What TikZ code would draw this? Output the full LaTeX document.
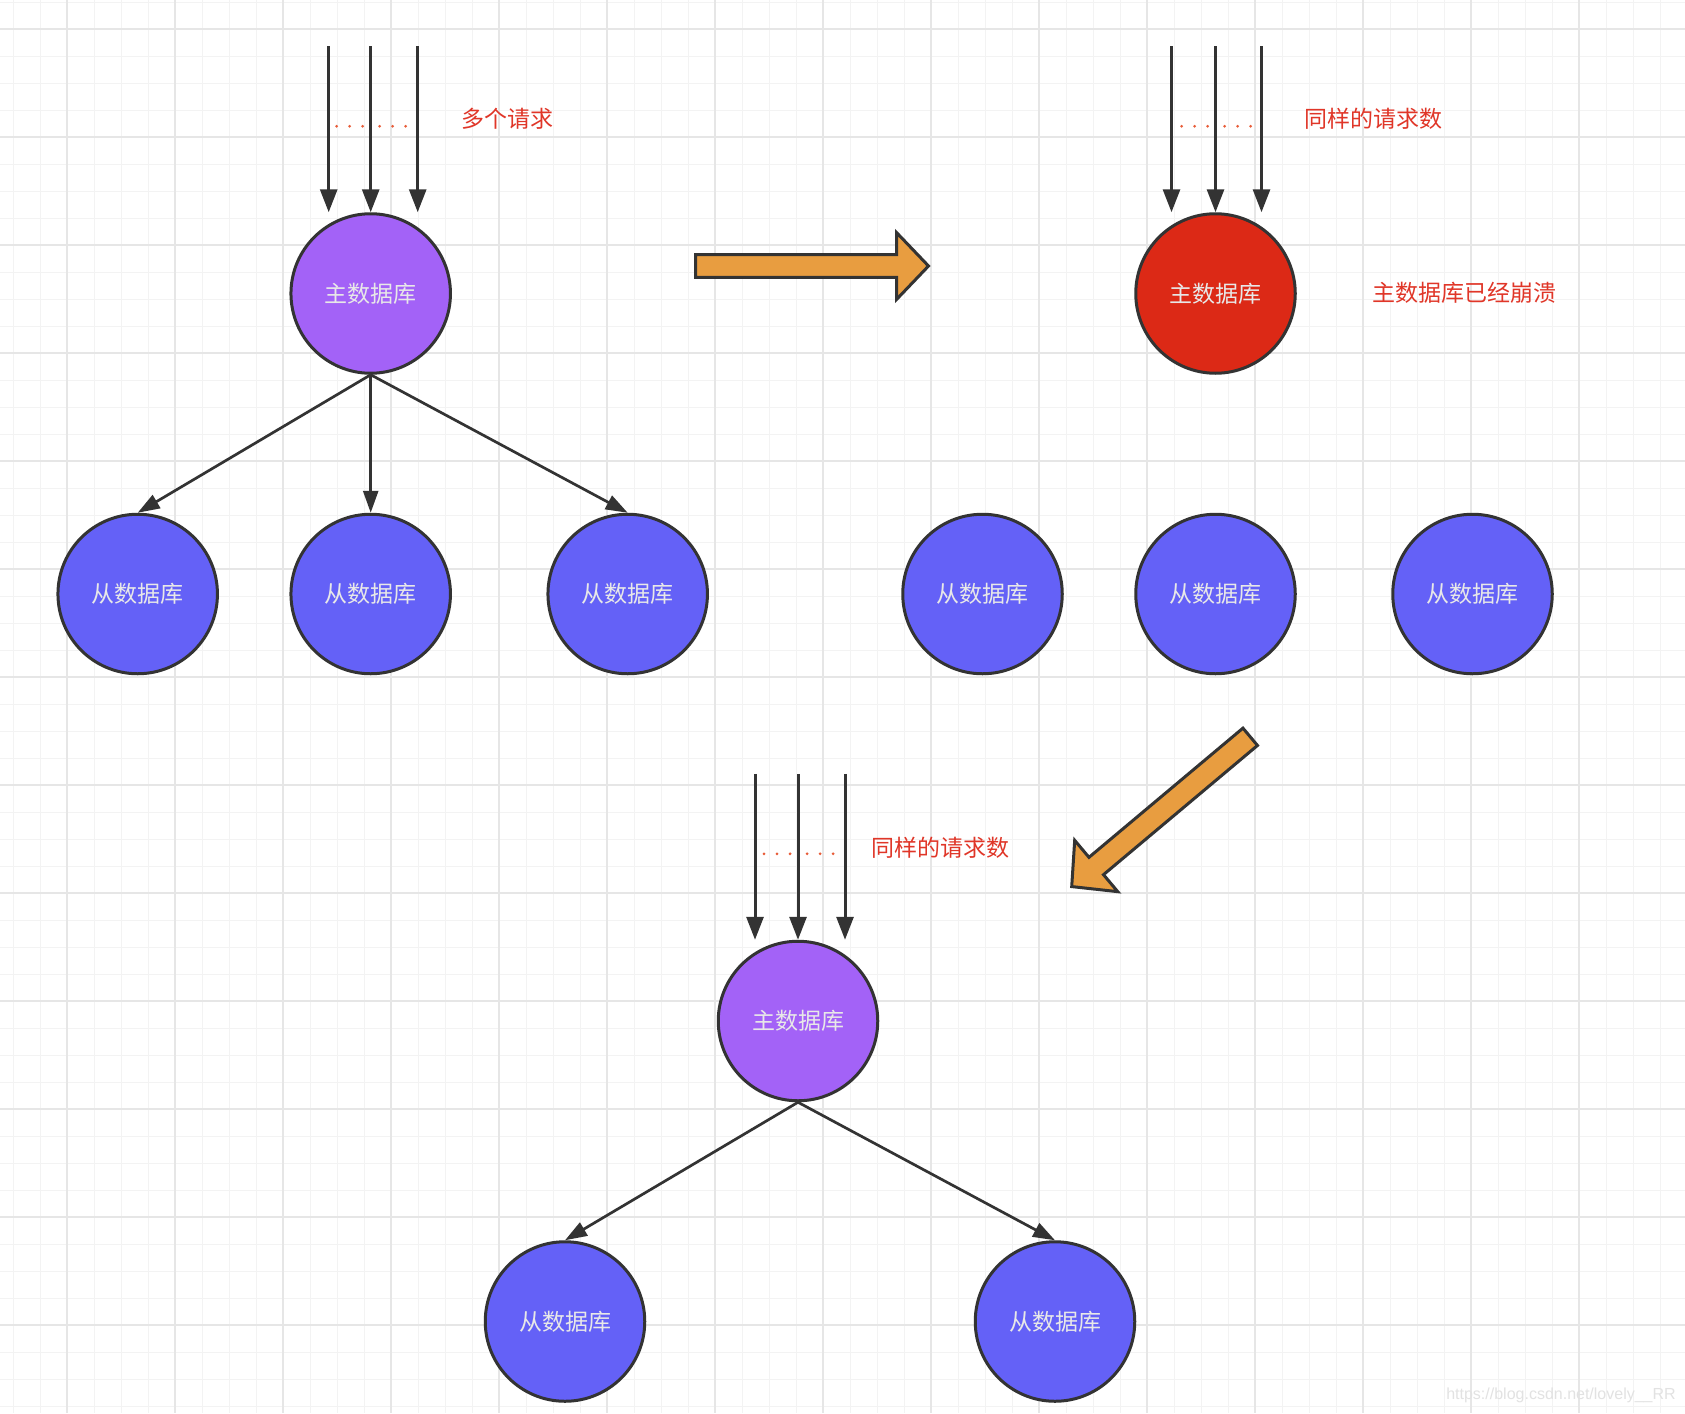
\documentclass[tikz,border=0pt]{standalone}
\usepackage{fontspec}
\setmainfont{Liberation Sans}
\newfontfamily\cjk{Noto Sans CJK SC}
\usetikzlibrary{arrows.meta, positioning, calc}

\begin{document}
\begin{tikzpicture}[
    x=1pt, y=-1pt,
    every node/.style = {font=\fontsize{23}{28}\selectfont\cjk},
    db/.style = {
        circle,
        draw={rgb,255:red,51;green,51;blue,51},
        line width=3pt,
        minimum size=159.5pt,
        inner sep=0pt,
        text={rgb,255:red,232;green,232;blue,232}
    },
    master/.style  = {db, fill={rgb,255:red,163;green,98;blue,247}},
    crashed/.style = {db, fill={rgb,255:red,220;green,41;blue,22}},
    slave/.style   = {db, fill={rgb,255:red,100;green,97;blue,247}},
    req/.style = {
        -{Triangle[length=23pt,width=17pt]},
        line width=3pt,
        color={rgb,255:red,51;green,51;blue,51}
    },
    arr/.style = {
        -{Triangle[length=22pt,width=15pt]},
        line width=2.7pt,
        color={rgb,255:red,51;green,51;blue,51}
    },
    note/.style = {text={rgb,255:red,224;green,54;blue,40}, inner sep=0pt},
    dot/.style  = {fill={rgb,255:red,232;green,92;blue,56}},
    bigarrow/.style = {
        fill={rgb,255:red,232;green,157;blue,64},
        draw={rgb,255:red,51;green,51;blue,51},
        line width=3pt,
        line join=miter
    },
    gridminor/.style = {line width=1.3pt, color={rgb,255:red,243;green,243;blue,243}},
    gridmajor/.style = {line width=1.8pt, color={rgb,255:red,230;green,230;blue,230}}
]

%% Canvas and grid paper
\useasboundingbox (0,0) rectangle (1685,1413);
\fill[white] (0,0) rectangle (1685,1413);
\foreach \k in {0,...,61}
    \draw[gridminor] (13.3+27*\k,0) -- (13.3+27*\k,1413);
\foreach \k in {0,...,52}
    \draw[gridminor] (0,2.3+27*\k) -- (1685,2.3+27*\k);
\foreach \k in {0,...,14}
    \draw[gridmajor] (67.3+108*\k,0) -- (67.3+108*\k,1413);
\foreach \k in {0,...,12}
    \draw[gridmajor] (0,29.3+108*\k) -- (1685,29.3+108*\k);

%% Masters
\node[master]                       (m1) at (370.7,293.5) {主数据库};
\node[crashed, right=682.3pt of m1] (m2)                  {主数据库};
\node[master]                       (m3) at (798,1021)    {主数据库};

%% Slaves placed in rows below each master
\node[slave, below=138pt of m1, xshift=-233pt] (s11) {从数据库};
\node[slave, below=138pt of m1]                (s12) {从数据库};
\node[slave, below=138pt of m1, xshift=257pt]  (s13) {从数据库};

\node[slave, below=138pt of m2, xshift=-233pt] (s21) {从数据库};
\node[slave, below=138pt of m2]                (s22) {从数据库};
\node[slave, below=138pt of m2, xshift=257pt]  (s23) {从数据库};

\node[slave, below=138pt of m3, xshift=-233pt] (s31) {从数据库};
\node[slave, below=138pt of m3, xshift=257pt]  (s32) {从数据库};

%% Incoming requests
\coordinate[above=166pt of m1.north] (m1in);
\coordinate[above=166pt of m2.north] (m2in);
\coordinate[above=166pt of m3.north] (m3in);

\draw[req] ([xshift=-42pt]m1in) -- ([xshift=-42pt]m1.north);
\draw[req] (m1in)               -- (m1.north);
\draw[req] ([xshift=47pt]m1in)  -- ([xshift=47pt]m1.north);

\draw[req] ([xshift=-44pt]m2in) -- ([xshift=-44pt]m2.north);
\draw[req] (m2in)               -- (m2.north);
\draw[req] ([xshift=46pt]m2in)  -- ([xshift=46pt]m2.north);

\draw[req] ([xshift=-43pt]m3in) -- ([xshift=-43pt]m3.north);
\draw[req] (m3in)               -- (m3.north);
\draw[req] ([xshift=47pt]m3in)  -- ([xshift=47pt]m3.north);

\foreach \c in {m1in, m2in, m3in}
    \foreach \dx in {-34,-21,-8,9,22,35}
        \fill[dot] ([shift={(\dx,80)}]\c) circle (1.5pt);

%% Replication links
\draw[arr] (m1.south) -- (s11.north);
\draw[arr] (m1.south) -- (s12.north);
\draw[arr] (m1.south) -- (s13.north);

\draw[arr] (m3.south) -- (s31.north);
\draw[arr] (m3.south) -- (s32.north);

%% Notes
\node[note] (n1) at (507,119)  {多个请求};
\node[note] (n2) at (1373,119) {同样的请求数};
\node[note] (n3) at (1464,293) {主数据库已经崩溃};
\node[note] (n4) at (940,848)  {同样的请求数};

%% Big step arrows
\begin{scope}[shift={(695.5,266)}]
    \draw[bigarrow] (0,-11.3) -- (201,-11.3) -- (201,-33.5) -- (233,0)
        -- (201,33.5) -- (201,11.3) -- (0,11.3) -- cycle;
\end{scope}
\begin{scope}[shift={(1250.2,736.8)}, rotate=220]
    \draw[bigarrow] (0,-11.3) -- (201,-11.3) -- (201,-33.5) -- (233,0)
        -- (201,33.5) -- (201,11.3) -- (0,11.3) -- cycle;
\end{scope}

%% Watermark
\node[font=\fontsize{16}{18}\selectfont\rmfamily,
      text={rgb,255:red,226;green,226;blue,226}]
    (mark) at (1561,1395) {https://blog.csdn.net/lovely\_\_RR};

\end{tikzpicture}
\end{document}
